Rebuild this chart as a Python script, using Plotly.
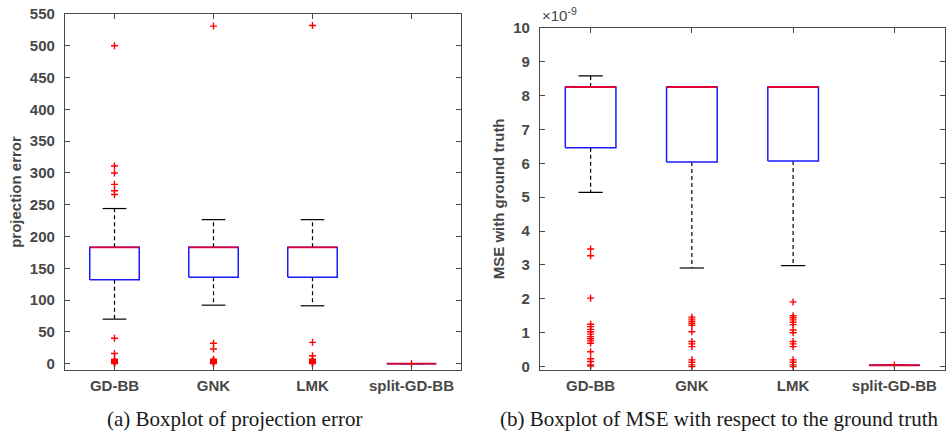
import plotly.graph_objects as go

categories = ["GD-BB", "GNK", "LMK", "split-GD-BB"]

# (a) projection error
pe_q1 = [132, 136, 136, 0]
pe_median = [183, 183, 183, 0]
pe_q3 = [183, 183, 183, 0]
pe_upper = [244, 226.5, 226.5, 0]
pe_lower = [70, 92, 91, 0]
pe_outliers = [
    [500, 311, 300, 282, 272, 266, 40, 16, 7, 5, 3, 2, 1, 0],
    [531, 32, 23, 7, 5, 4, 3, 2, 1, 0],
    [532, 33.5, 12.5, 7, 5, 3, 2, 1, 0],
    [0],
]

# (b) MSE with ground truth (x 1e-9)
mse_q1 = [6.46, 6.04, 6.07, 0.04]
mse_median = [8.25, 8.25, 8.25, 0.04]
mse_q3 = [8.25, 8.25, 8.25, 0.04]
mse_upper = [8.58, 8.25, 8.25, 0.04]
mse_lower = [5.14, 2.91, 2.98, 0.04]
mse_outliers = [
    [3.47, 3.27, 2.02, 1.25, 1.18, 1.10, 1.03, 0.96, 0.885, 0.82, 0.76, 0.69, 0.44, 0.23, 0.15, 0.05, 0.02],
    [1.46, 1.40, 1.34, 1.28, 1.22, 1.03, 0.74, 0.67, 0.59, 0.20, 0.13, 0.05, 0.0],
    [1.91, 1.50, 1.44, 1.38, 1.31, 1.24, 1.08, 1.0, 0.74, 0.67, 0.59, 0.20, 0.13, 0.05, 0.0],
    [0.05],
]

pe_ticks = list(range(0, 551, 50))
mse_ticks = list(range(0, 11))

BOX_HW = 0.25
CAP_HW = 0.12
BLUE = "#1a1aff"
RED = "#dd0033"
AXC = "#4a4a4a"
TXT = "#474747"

fig = go.Figure()


def add_panel(xa, ya, q1, med, q3, up, lo, outl):
    for i, cat in enumerate(categories):
        p = i + 1
        # whiskers (dashed)
        fig.add_trace(go.Scatter(x=[p, p, None, p, p], y=[q3[i], up[i], None, q1[i], lo[i]],
                                 mode="lines", line=dict(color="black", width=1.2, dash="4px,3px"),
                                 xaxis=xa, yaxis=ya, hoverinfo="skip", showlegend=False))
        # caps
        fig.add_trace(go.Scatter(x=[p - CAP_HW, p + CAP_HW, None, p - CAP_HW, p + CAP_HW],
                                 y=[up[i], up[i], None, lo[i], lo[i]],
                                 mode="lines", line=dict(color="black", width=1.2),
                                 xaxis=xa, yaxis=ya, hoverinfo="skip", showlegend=False))
        # box
        fig.add_trace(go.Scatter(x=[p - BOX_HW, p + BOX_HW, p + BOX_HW, p - BOX_HW, p - BOX_HW],
                                 y=[q1[i], q1[i], q3[i], q3[i], q1[i]],
                                 mode="lines", line=dict(color=BLUE, width=1.5),
                                 xaxis=xa, yaxis=ya, hoverinfo="skip", showlegend=False))
        # median
        fig.add_trace(go.Scatter(x=[p - BOX_HW, p + BOX_HW], y=[med[i], med[i]],
                                 mode="lines", line=dict(color=RED, width=1.8),
                                 xaxis=xa, yaxis=ya, hoverinfo="skip", showlegend=False))
        # outliers
        fig.add_trace(go.Scatter(x=[p] * len(outl[i]), y=outl[i], mode="markers",
                                 marker=dict(symbol="cross-thin", size=5,
                                             line=dict(color="#ff0000", width=1.4)),
                                 xaxis=xa, yaxis=ya, hoverinfo="skip", showlegend=False))


add_panel("x", "y", pe_q1, pe_median, pe_q3, pe_upper, pe_lower, pe_outliers)
add_panel("x2", "y2", mse_q1, mse_median, mse_q3, mse_upper, mse_lower, mse_outliers)

tickfont = dict(family="Arial", size=15, color=TXT, weight="bold")
titlefont = dict(family="Arial", size=15, color=TXT, weight="bold")
common_x = dict(range=[0.5, 4.5], tickvals=[1, 2, 3, 4], ticktext=categories,
                ticks="inside", ticklen=5, tickcolor=AXC, showline=True, linecolor=AXC,
                linewidth=1.2, mirror="allticks", showgrid=False, zeroline=False,
                tickfont=tickfont, ticklabelstandoff=2, automargin=False,
                ticklabeloverflow="allow")
common_y = dict(ticks="inside", ticklen=5, tickcolor=AXC, showline=True, linecolor=AXC,
                linewidth=1.2, mirror="allticks", showgrid=False, zeroline=False,
                tickfont=tickfont, ticklabelstandoff=6, automargin=False,
                ticklabeloverflow="allow")

W = 946
H = 434


def px(x):
    return x / W


def py(y):
    return 1 - y / H


fig.update_layout(
    width=W, height=H,
    margin=dict(l=0, r=0, t=0, b=0, autoexpand=False),
    plot_bgcolor="white", paper_bgcolor="white",
    xaxis=dict(domain=[px(65), px(461)], anchor="y", **common_x),
    yaxis=dict(domain=[py(370), py(14)], anchor="x", range=[-10, 550],
               tickvals=pe_ticks,
               title=dict(text="projection error", font=titlefont, standoff=4),
               **common_y),
    xaxis2=dict(domain=[px(540), px(945)], anchor="y2", **common_x),
    yaxis2=dict(domain=[py(370), py(27.7)], anchor="x2", range=[-0.1, 10],
                tickvals=mse_ticks,
                title=dict(text="MSE with ground truth", font=titlefont, standoff=4),
                **common_y),
    annotations=[
        dict(text="×10<sup>-9</sup>", x=px(540), y=py(26), xref="paper", yref="paper",
             xanchor="left", yanchor="bottom", showarrow=False,
             font=dict(family="Arial", size=15, color=TXT)),
        dict(text="(a) Boxplot of projection error", x=px((105 + 363) / 2), y=py(419),
             xref="paper", yref="paper", xanchor="center", yanchor="middle", showarrow=False,
             font=dict(family="Liberation Serif", size=21, color="#1a1a1a")),
        dict(text="(b) Boxplot of MSE with respect to the ground truth", x=px((498 + 940) / 2), y=py(419),
             xref="paper", yref="paper", xanchor="center", yanchor="middle", showarrow=False,
             font=dict(family="Liberation Serif", size=21, color="#1a1a1a")),
    ],
)

# remove the default 8px page margin so the figure fills the window exactly
fig.write_html("out.html", config={"displayModeBar": False},
               post_script="document.body.style.margin='0';document.body.style.overflow='hidden';")
